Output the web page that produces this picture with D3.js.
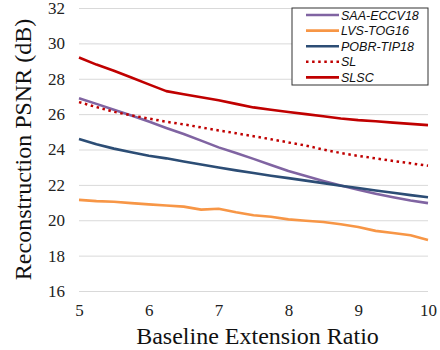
<!DOCTYPE html>
<html>
<head>
<meta charset="utf-8">
<script src="https://cdn.jsdelivr.net/npm/d3@7"></script>
<style>
  body { margin: 0; background: #fff; }
  svg { display: block; }
</style>
</head>
<body>
<div id="chart"></div>
<script>
// data
const ratios = [5, 5.25, 5.5, 5.75, 6, 6.25, 6.5, 6.75, 7, 7.25, 7.5, 7.75, 8, 8.25, 8.5, 8.75, 9, 9.25, 9.5, 9.75, 10];
const saa  = [26.9, 26.58, 26.25, 25.92, 25.58, 25.22, 24.88, 24.5, 24.12, 23.8, 23.47, 23.12, 22.78, 22.5, 22.22, 21.96, 21.72, 21.5, 21.3, 21.12, 20.97];
const lvs  = [21.15, 21.08, 21.05, 20.97, 20.9, 20.83, 20.77, 20.6, 20.65, 20.45, 20.28, 20.2, 20.05, 19.97, 19.9, 19.77, 19.62, 19.4, 19.28, 19.15, 18.88];
const pobr = [24.6, 24.3, 24.05, 23.85, 23.65, 23.5, 23.32, 23.15, 22.98, 22.82, 22.67, 22.52, 22.38, 22.24, 22.1, 21.95, 21.82, 21.68, 21.55, 21.42, 21.3];
const sl   = [26.68, 26.4, 26.13, 25.93, 25.75, 25.57, 25.42, 25.25, 25.08, 24.92, 24.75, 24.58, 24.4, 24.22, 24.0, 23.8, 23.64, 23.5, 23.35, 23.22, 23.08];
const slsc = [29.2, 28.8, 28.45, 28.07, 27.68, 27.3, 27.12, 26.95, 26.78, 26.58, 26.38, 26.25, 26.12, 26.0, 25.88, 25.75, 25.66, 25.6, 25.52, 25.45, 25.38];
const seriesNames = ['SAA-ECCV18', 'LVS-TOG16', 'POBR-TIP18', 'SL', 'SLSC'];
const xTicks = [5, 6, 7, 8, 9, 10];
const yTicks = [16, 18, 20, 22, 24, 26, 28, 30, 32];

const colors = ['#8064a2', '#f79646', '#2c4d75', '#c00000', '#c00000'];
const dashed = [false, false, false, true, false];
const values = [saa, lvs, pobr, sl, slsc];

const width = 440, height = 350;
const margin = { top: 8, right: 12, bottom: 59, left: 79 };
const serif = 'Liberation Serif, Times New Roman, serif';

const svg = d3.select('#chart').append('svg')
  .attr('width', width)
  .attr('height', height);

const x = d3.scaleLinear().domain([5, 10]).range([margin.left, width - margin.right]);
const y = d3.scaleLinear().domain([16, 32]).range([height - margin.bottom, margin.top]);

// gridlines
svg.append('g')
  .attr('transform', `translate(${margin.left},0)`)
  .call(d3.axisLeft(y).tickValues(yTicks).tickSize(-(width - margin.left - margin.right)).tickFormat(''))
  .call(g => g.select('.domain').remove())
  .call(g => g.selectAll('line').attr('stroke', '#d9d9d9').attr('stroke-width', 1));

// y labels
svg.append('g')
  .attr('transform', `translate(${margin.left},0)`)
  .call(d3.axisLeft(y).tickValues(yTicks).tickSize(0).tickPadding(14).tickFormat(d3.format('d')))
  .call(g => g.select('.domain').remove())
  .call(g => g.selectAll('text')
    .attr('font-family', serif)
    .attr('font-size', 17).attr('fill', '#222'));

// x labels
svg.append('g')
  .attr('transform', `translate(0,${height - margin.bottom})`)
  .call(d3.axisBottom(x).tickValues(xTicks).tickSize(0).tickPadding(13).tickFormat(d3.format('d')))
  .call(g => g.select('.domain').remove())
  .call(g => g.selectAll('text')
    .attr('font-family', serif)
    .attr('font-size', 17).attr('fill', '#222'));

// lines
const line = d3.line().x((d, i) => x(ratios[i])).y(d => y(d));
values.forEach((vals, k) => {
  svg.append('path')
    .datum(vals)
    .attr('d', line)
    .attr('fill', 'none')
    .attr('stroke', colors[k])
    .attr('stroke-width', dashed[k] ? 2.5 : 2.6)
    .attr('stroke-linejoin', 'round')
    .attr('stroke-dasharray', dashed[k] ? '2.5,3.6' : null);
});

// axis titles
svg.append('text')
  .attr('x', (margin.left + width - margin.right) / 2 + 4)
  .attr('y', 344)
  .attr('text-anchor', 'middle')
  .attr('font-family', serif)
  .attr('font-size', 24)
  .attr('fill', '#111')
  .text('Baseline Extension Ratio');

svg.append('text')
  .attr('transform', `translate(31,${(margin.top + height - margin.bottom) / 2}) rotate(-90)`)
  .attr('text-anchor', 'middle')
  .attr('font-family', serif)
  .attr('font-size', 24)
  .attr('fill', '#111')
  .text('Reconstruction PSNR (dB)');

// legend
const legend = svg.append('g').attr('transform', 'translate(292,8)');
legend.append('rect')
  .attr('width', 136).attr('height', 77)
  .attr('fill', '#fff').attr('stroke', '#333').attr('stroke-width', 1);
seriesNames.forEach((name, k) => {
  const ly = 7 + k * 15.6;
  legend.append('line')
    .attr('x1', 14).attr('x2', 47).attr('y1', ly).attr('y2', ly)
    .attr('stroke', colors[k]).attr('stroke-width', 2.6)
    .attr('stroke-dasharray', dashed[k] ? '2.5,3.6' : null);
  legend.append('text')
    .attr('x', 49).attr('y', ly + 4.5)
    .attr('font-family', 'Liberation Sans, Arial, sans-serif')
    .attr('font-style', 'italic')
    .attr('font-size', 12.5)
    .attr('fill', '#111')
    .text(name);
});
</script>
</body>
</html>
